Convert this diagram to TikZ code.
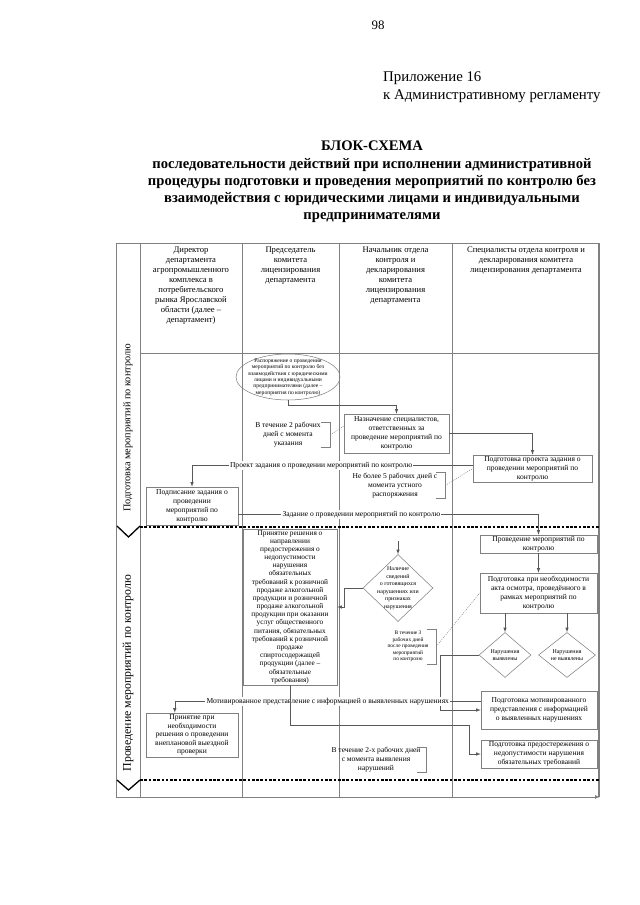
\documentclass[tikz,border=0pt]{standalone}
\usepackage{fontspec}
\setmainfont{Liberation Serif}
\usetikzlibrary{shapes.geometric}
\usetikzlibrary{positioning}

\newcommand{\pxu}{0.93pt}

\begin{document}
\begin{tikzpicture}[x=0.93pt, y=-0.93pt, >=latex,
  grid/.style={draw=gray, line width=0.6pt},
  box/.style={draw=gray, line width=0.5pt, align=center, inner sep=1pt, font=\fontsize{7}{8.4}\selectfont},
  sz/.style 2 args={minimum width=#1*\pxu, minimum height=#2*\pxu},
  flow/.style={draw=gray!70!black, line width=0.5pt, ->},
  note/.style={align=center, inner sep=0pt, font=\fontsize{7}{8.4}\selectfont},
  bracket/.style={draw=gray, line width=0.5pt},
  leader/.style={draw=gray, line width=0.4pt, dash pattern=on 1pt off 1pt},
  lbl/.style={fill=white, inner sep=1pt, font=\fontsize{7}{8}\selectfont},
  stage/.style={draw=black, line width=1.4pt, dash pattern=on 2.5pt off 1.5pt},
  chev/.style={draw=black, line width=1.2pt},
  head/.style={align=center, anchor=north, inner sep=0pt, font=\fontsize{8}{9.3}\selectfont},
  lane/.style={rotate=90, inner sep=0pt},
  decision/.style={diamond, draw=gray, line width=0.5pt, inner sep=0pt},
  dtext/.style={align=center, inner sep=0pt, font=\fontsize{5.5}{7}\selectfont}
]
\useasboundingbox (0,0) rectangle (640,905);

% title
\node[font=\fontsize{12}{14}\selectfont] (pagenum) at (378,25) {98};
\node[anchor=north west, align=left, inner sep=0pt, font=\fontsize{13.8}{17}\selectfont] (annex) at (383,71)
  {Приложение 16\\к Административному регламенту};
\node[anchor=north, align=center, inner sep=0pt, font=\bfseries\fontsize{13.6}{16}\selectfont] (title) at (372,141)
  {БЛОК-СХЕМА\\последовательности действий при исполнении административной\\процедуры подготовки и проведения мероприятий по контролю без\\взаимодействия с юридическими лицами и индивидуальными\\предпринимателями};

% table
\draw[grid] (600,243) -- (116,243) -- (116,797);
\draw[grid,->] (116,797) -- (600,797);
\draw[gray, line width=1.5pt] (599,243) -- (599,797);
\foreach \x in {140,242,339,452}
  \draw[grid] (\x,243) -- (\x,797);
\draw[grid] (140,353) -- (600,353);
\draw[stage] (140,527) -- (600,527);
\draw[stage] (140,780) -- (600,780);
\draw[chev] (117,526) -- (128.5,537) -- (140,526);
\draw[chev] (117,780) -- (128.5,790) -- (140,780);

\node[lane, font=\fontsize{9.5}{11}\selectfont] (laneprep) at (128,428) {Подготовка мероприятий по контролю};
\node[lane, font=\fontsize{11}{12}\selectfont] (lanedo) at (128,673) {Проведение мероприятий по контролю};

\node[head] (hdrDir) at (191,247) {Директор\\департамента\\агропромышленного\\комплекса в\\потребительского\\рынка Ярославской\\области (далее –\\департамент)};
\node[head] (hdrChair) at (290.5,247) {Председатель\\комитета\\лицензирования\\департамента};
\node[head] (hdrHead) at (395.5,247) {Начальник отдела\\контроля и\\декларирования\\комитета\\лицензирования\\департамента};
\node[head] (hdrSpec) at (526,247) {Специалисты отдела контроля и\\декларирования комитета\\лицензирования департамента};

% preparation
\node[ellipse, draw=gray, line width=0.5pt, inner sep=0pt, sz={104}{46},
  label={[align=center, inner sep=0pt, font=\fontsize{5.2}{6}\selectfont]center:Распоряжение о проведении\\мероприятий по контролю без\\взаимодействия с юридическими\\лицами и индивидуальными\\предпринимателями (далее –\\мероприятия по контролю)}]
  (order) at (288,377) {};
\node[box, sz={105}{39}] (appoint) at (396.5,433.5) {Назначение специалистов,\\ответственных за\\проведение мероприятий по\\контролю};
\node[box, sz={119}{27}] (draftTask) at (532.5,468.5) {Подготовка проекта задания о\\проведении мероприятий по\\контролю};
\node[box, sz={92}{38}] (signTask) at (192,506) {Подписание задания о\\проведении\\мероприятий по\\контролю};

\node[note, sz={84}{24}] (term2) at (288,435) {В течение 2 рабочих\\дней с момента\\указания};
\node[note, sz={100}{25}] (term5) at (395,485.5) {Не более 5 рабочих дней с\\момента устного\\распоряжения};

\draw[bracket] (term2.north east) ++(-9,0) -- (term2.north east) -- (term2.south east) -- ++(-9,0);
\draw[bracket] (term5.north east) ++(-9,0) -- (term5.north east) -- (term5.south east) -- ++(-9,0);
\draw[leader] (term2.east) -- ([yshift=7pt]appoint.west);
\draw[leader] (term5.east) -- (draftTask.west);

\draw[flow] (order.south) -- ++(0,5) -| (appoint.north);
\draw[flow] (appoint.east) -| (draftTask.north);
\draw[flow] ([yshift=3pt]draftTask.west) -| (signTask.north)
  node[lbl, pos=0.27] {Проект задания о проведении мероприятий по контролю};

% inspection
\node[box, sz={117}{18}] (inspect) at (538.5,544) {Проведение мероприятий по\\контролю};
\node[box, sz={117}{40}] (act) at (538.5,593) {Подготовка при необходимости\\акта осмотра, проведённого в\\рамках мероприятий по\\контролю};
\node[decision, sz={52}{45}, label={[dtext]center:Нарушения\\выявлены}] (viol) at (505,655) {};
\node[decision, sz={57}{45}, label={[dtext]center:Нарушения\\не выявлены}] (noviol) at (567,655) {};
\node[box, sz={94}{156}, font=\fontsize{6.8}{7.6}\selectfont] (warnDecision) at (290,607)
  {Принятие решения о\\направлении\\предостережения о\\недопустимости\\нарушения\\обязательных\\требований к розничной\\продаже алкогольной\\продукции и розничной\\продаже алкогольной\\продукции при оказании\\услуг общественного\\питания, обязательных\\требований к розничной\\продаже\\спиртосодержащей\\продукции (далее –\\обязательные\\требования)};
\node[decision, sz={70}{67}, label={[dtext]center:Наличие\\сведений\\о готовящихся\\нарушениях или\\признаках\\нарушения}] (info) at (398,588) {};
\node[box, sz={92}{44}, font=\fontsize{7}{8}\selectfont] (unplanned) at (192,735) {Принятие при\\необходимости\\решения о проведении\\внеплановой выездной\\проверки};
\node[box, sz={116}{38}] (motiv) at (539,710) {Подготовка мотивированного\\представления с информацией\\о выявленных нарушениях};
\node[box, sz={116}{28}] (warnPrep) at (539,754) {Подготовка предостережения о\\недопустимости нарушения\\обязательных требований};

\node[note, sz={56}{35}, font=\fontsize{5}{6}\selectfont] (term3) at (408,646.5) {В течение 3\\рабочих дней\\после проведения\\мероприятий\\по контролю};
\node[note, sz={100}{24}] (term2x) at (376,760) {В течение 2-х рабочих дней\\с момента выявления\\нарушений};
\draw[bracket] (term3.north east) ++(-9,0) -- (term3.north east) -- (term3.south east) -- ++(-9,0);
\draw[bracket] (term2x.north east) ++(-9,0) -- (term2x.north east) -- (term2x.south east) -- ++(-9,0);
\draw[leader] (term3.east) -- (act.west);

\coordinate (infoIn) at (398,541);
\coordinate (bendW) at (469,725);
\draw[flow] ([yshift=-8pt]signTask.east) -| (inspect.north)
  node[lbl, pos=0.205] {Задание о проведении мероприятий по контролю};
\draw[flow] (inspect.south) -- (act.north);
\draw[flow] (viol.north |- act.south) -- (viol.north);
\draw[flow] (noviol.north |- act.south) -- (noviol.north);
\draw[flow] (infoIn) -- (info.north);
\draw[flow] (info.west) -- ++(-18,0) |- (warnDecision.east);
\draw[flow] (viol.west) -- ++(-38,0) |- (motiv.west);
\draw[flow] ([yshift=8pt]motiv.west) -| ([xshift=-16pt]unplanned.north)
  node[lbl, pos=0.25] {Мотивированное представление с информацией о выявленных нарушениях};
\draw[flow] (warnDecision.south) |- (bendW) |- (warnPrep.west);
\end{tikzpicture}
\end{document}
